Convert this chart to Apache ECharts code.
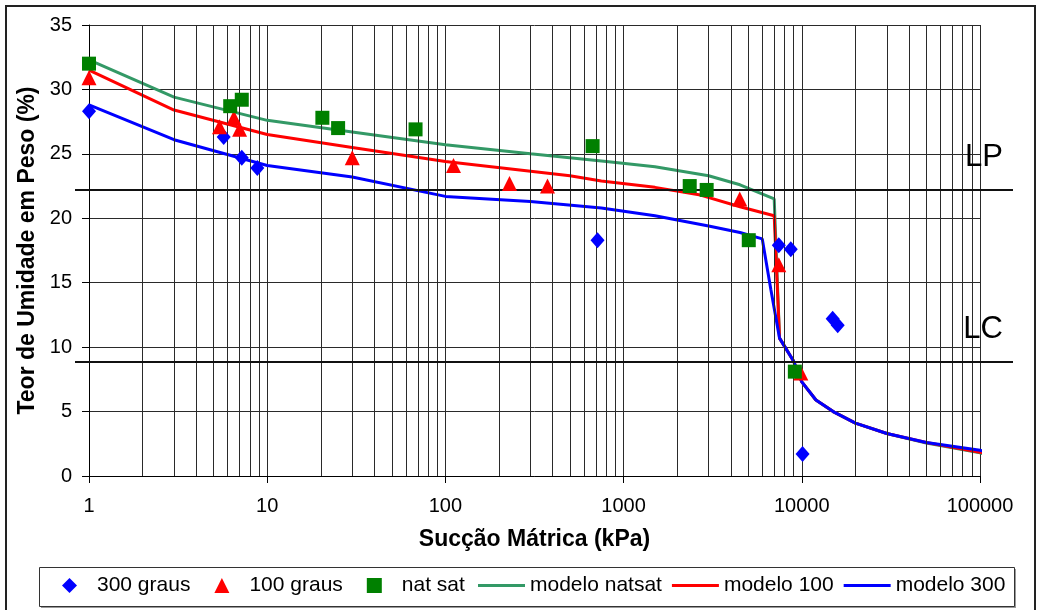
<!DOCTYPE html>
<html>
<head>
<meta charset="utf-8">
<script src="https://cdn.jsdelivr.net/npm/echarts@6/dist/echarts.min.js"></script>
<style>html,body{margin:0;padding:0;background:#fff}#c{width:1040px;height:610px}</style>
</head>
<body>
<div id="c"></div>
<script>
// ---- data ----
var s300X = [1, 5.7, 7.2, 8.8, 714, 7430, 8670, 14900, 15900, 10100];
var s300Y = [28.3, 26.3, 24.7, 23.9, 18.3, 17.9, 17.6, 12.2, 11.7, 1.7];

var s100X = [1, 5.4, 6.5, 7.0, 30, 111, 229, 374, 4485, 7430, 9870];
var s100Y = [30.9, 27.1, 27.8, 26.9, 24.7, 24.1, 22.7, 22.5, 21.5, 16.4, 8.0];

var natX = [1, 6.2, 7.2, 20.4, 25, 68, 670, 2350, 2925, 5040, 9140];
var natY = [32.0, 28.7, 29.2, 27.8, 27.0, 26.9, 25.6, 22.5, 22.2, 18.3, 8.1];

var modNatX = [1, 3, 10, 30, 100, 300, 800, 1500, 3000, 4500, 7000, 7500, 9000, 10000, 12000, 15000, 20000, 30000, 50000, 100000, 110000];
var modNatY = [32.3, 29.4, 27.6, 26.7, 25.7, 25.0, 24.4, 24.0, 23.3, 22.6, 21.5, 10.7, 8.9, 7.3, 5.9, 5.0, 4.1, 3.3, 2.55, 1.8, 1.65];

var mod100X = [1, 3, 10, 30, 100, 500, 750, 1500, 2700, 4500, 7000, 7500, 9000, 10000, 12000, 15000, 20000, 30000, 50000, 100000, 110000];
var mod100Y = [31.5, 28.4, 26.5, 25.5, 24.4, 23.3, 22.9, 22.4, 21.8, 20.9, 20.2, 10.7, 8.9, 7.3, 5.9, 5.0, 4.1, 3.3, 2.6, 1.85, 1.7];

var mod300X = [1, 3, 10, 30, 100, 300, 750, 1500, 3000, 4500, 6000, 6700, 7500, 9000, 10000, 12000, 15000, 20000, 30000, 50000, 100000, 110000];
var mod300Y = [28.8, 26.1, 24.1, 23.2, 21.7, 21.3, 20.8, 20.2, 19.4, 18.9, 18.4, 14.5, 10.7, 8.9, 7.3, 5.9, 5.0, 4.1, 3.3, 2.6, 2.0, 1.85];

var LP = 22.25;
var LC = 8.9;

var xMin = 1, xMax = 100000;
var yMin = 0, yMax = 35, yStep = 5;

// minor log gridlines (2..9 per decade)
var minorTicks = [];
for (var d = 1; d < xMax; d *= 10) {
  for (var m = 2; m <= 9; m++) minorTicks.push(m * d);
}

function pairs(xs, ys) { return xs.map(function (x, i) { return [x, ys[i]]; }); }

var FONT = "'Liberation Sans', Arial, sans-serif";
var gridColor = '#2a2a2a';
var LINE_ICON = 'path://M0,0 L47,0 L47,3 L0,3 Z';

var chart = echarts.init(document.getElementById('c'), null, { renderer: 'canvas' });

var lineBase = function (name, color, xs, ys) {
  return {
    name: name, type: 'line', xAxisIndex: 0, yAxisIndex: 0,
    data: pairs(xs, ys), symbol: 'none', showSymbol: false, clip: false,
    lineStyle: { color: color, width: 3 }, itemStyle: { color: color, opacity: 1 },
    z: 4, silent: true, animation: false
  };
};

var legendText = { fontSize: 21, color: '#000', fontFamily: FONT };

var option = {
  animation: false,
  textStyle: { fontFamily: FONT },
  graphic: [{
    type: 'rect', silent: true,
    shape: { x: 6, y: 6, width: 1029, height: 640 },
    style: { fill: 'none', stroke: '#222', lineWidth: 2 }
  }, {
    type: 'rect', silent: true, z: -1,
    shape: { x: 41, y: 569, width: 975, height: 39 },
    style: { fill: '#999', stroke: 'none' }
  }, {
    type: 'rect', silent: true, z: 0,
    shape: { x: 39.5, y: 567.5, width: 975, height: 39 },
    style: { fill: '#fff', stroke: '#333', lineWidth: 1 }
  }],
  grid: [
    { left: 89, right: 60, top: 25, bottom: 134, containLabel: false },
    { left: 75, right: 27, top: 25, bottom: 134, containLabel: false }
  ],
  xAxis: [{
    type: 'log', logBase: 10, min: xMin, max: xMax, gridIndex: 0,
    name: 'Sucção Mátrica (kPa)', nameLocation: 'middle', nameGap: 52,
    nameTextStyle: { fontSize: 23, fontWeight: 'bold', color: '#000', fontFamily: FONT },
    axisLine: { show: true, lineStyle: { color: '#000', width: 1 } },
    axisTick: { show: true, inside: false, length: 7, lineStyle: { color: '#000' } },
    axisLabel: {
      fontSize: 20, color: '#000', margin: 20, fontFamily: FONT, showMinLabel: true, showMaxLabel: true,
      formatter: function (v) { return String(Math.round(v)); }
    },
    splitLine: { show: true, lineStyle: { color: gridColor, width: 1 } },
    minorTick: { show: false }, minorSplitLine: { show: false }
  }, {
    type: 'value', min: 0, max: 1, gridIndex: 1, show: false
  }],
  yAxis: [{
    type: 'value', min: yMin, max: yMax, interval: yStep, gridIndex: 0,
    name: 'Teor de Umidade em Peso (%)', nameLocation: 'middle', nameGap: 45, nameRotate: 90,
    nameTextStyle: { fontSize: 23, fontWeight: 'bold', color: '#000', fontFamily: FONT },
    axisLine: { show: true, lineStyle: { color: '#000', width: 1 } },
    axisTick: { show: true, inside: false, length: 7, lineStyle: { color: '#000' } },
    axisLabel: { fontSize: 20, color: '#000', margin: 17, fontFamily: FONT },
    splitLine: { show: true, lineStyle: { color: gridColor, width: 1 } }
  }, {
    type: 'value', min: yMin, max: yMax, gridIndex: 1, show: false
  }],
  legend: [{
    left: 62, top: 575, padding: 0,
    itemWidth: 15, itemHeight: 15, itemGap: 24,
    textStyle: Object.assign({ padding: [0, 0, 0, 15] }, legendText),
    data: [
      { name: '300 graus', icon: 'diamond' },
      { name: '100 graus', icon: 'triangle' },
      { name: 'nat sat', icon: 'rect' }
    ]
  }, {
    left: 478, top: 575, padding: 0,
    itemWidth: 47, itemHeight: 14, itemGap: 10,
    textStyle: legendText,
    data: [
      { name: 'modelo natsat', icon: LINE_ICON },
      { name: 'modelo 100', icon: LINE_ICON },
      { name: 'modelo 300', icon: LINE_ICON }
    ]
  }],
  series: [
    {
      name: '_grid', type: 'line', xAxisIndex: 0, yAxisIndex: 0, data: [], z: 1, silent: true,
      markLine: {
        silent: true, symbol: ['none', 'none'], animation: false,
        label: { show: false },
        lineStyle: { color: gridColor, width: 1, type: 'solid' },
        emphasis: { disabled: true },
        data: minorTicks.map(function (v) { return { xAxis: v }; })
      }
    },
    {
      name: '_limits', type: 'line', xAxisIndex: 1, yAxisIndex: 1, data: [], z: 2, silent: true,
      markLine: {
        silent: true, symbol: ['none', 'none'], animation: false,
        lineStyle: { color: '#111', width: 2, type: 'solid' },
        emphasis: { disabled: true },
        label: { show: true, position: 'insideEndTop', fontSize: 31, color: '#000', fontFamily: FONT, distance: [10, 16] },
        data: [
          { yAxis: LP, label: { formatter: 'LP' } },
          { yAxis: LC, label: { formatter: 'LC' } }
        ]
      }
    },
    lineBase('modelo natsat', '#339966', modNatX, modNatY),
    lineBase('modelo 100', '#FF0000', mod100X, mod100Y),
    lineBase('modelo 300', '#0000FF', mod300X, mod300Y),
    {
      name: '300 graus', type: 'scatter', xAxisIndex: 0, yAxisIndex: 0,
      data: pairs(s300X, s300Y), symbol: 'diamond', symbolSize: [14, 16],
      itemStyle: { color: '#0000FF', opacity: 1 }, z: 6, clip: false
    },
    {
      name: '100 graus', type: 'scatter', xAxisIndex: 0, yAxisIndex: 0,
      data: pairs(s100X, s100Y), symbol: 'triangle', symbolSize: [15, 15],
      itemStyle: { color: '#FF0000', opacity: 1 }, z: 6, clip: false
    },
    {
      name: 'nat sat', type: 'scatter', xAxisIndex: 0, yAxisIndex: 0,
      data: pairs(natX, natY), symbol: 'rect', symbolSize: [14, 14],
      itemStyle: { color: '#008000', opacity: 1 }, z: 7, clip: false
    }
  ]
};
chart.setOption(option);
</script>
</body>
</html>
